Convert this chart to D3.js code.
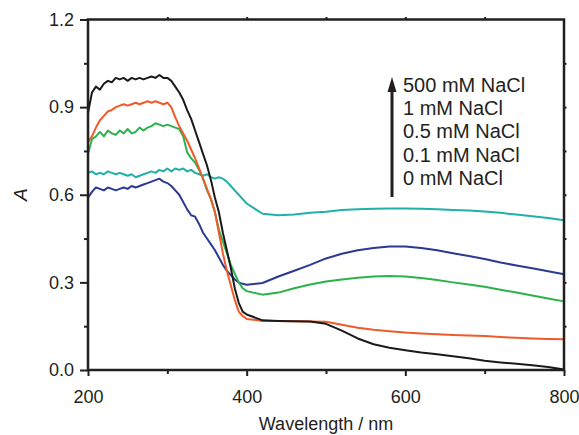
<!DOCTYPE html>
<html>
<head>
<meta charset="utf-8">
<script src="https://cdn.jsdelivr.net/npm/d3@7"></script>
<style>
  body { margin: 0; background: #fff; }
  text { font-family: "Liberation Sans", Arial, sans-serif; fill: #231f20; }
</style>
</head>
<body>
<div id="viz"></div>
<script>
var wavelength = [200,205,210,215,220,225,230,235,240,245,250,255,260,265,270,275,280,285,290,295,
  300,305,310,315,320,325,330,335,340,345,350,355,360,365,370,375,380,385,390,395,400,
  420,440,460,480,500,520,540,560,580,600,620,640,660,680,700,720,740,760,780,800];

var nacl500 = [0.88,0.95,0.97,0.96,0.98,0.99,0.985,1.0,0.995,1.0,0.99,1.0,0.995,1.0,0.995,1.0,1.005,1.0,1.01,1.0,
  1.0,0.99,0.97,0.95,0.925,0.89,0.86,0.82,0.78,0.74,0.7,0.65,0.59,0.54,0.47,0.41,0.35,0.28,0.23,0.2,0.19,
  0.17,0.168,0.167,0.166,0.158,0.135,0.108,0.088,0.076,0.068,0.06,0.054,0.047,0.04,0.032,0.026,0.021,0.016,0.01,0.002];

var nacl1 = [0.78,0.8,0.83,0.855,0.87,0.885,0.89,0.9,0.905,0.91,0.905,0.91,0.915,0.91,0.915,0.92,0.915,0.92,0.915,0.91,
  0.915,0.9,0.865,0.835,0.81,0.785,0.755,0.725,0.69,0.655,0.62,0.585,0.54,0.47,0.4,0.34,0.29,0.24,0.2,0.185,0.175,
  0.168,0.168,0.167,0.166,0.165,0.155,0.145,0.138,0.133,0.128,0.125,0.122,0.12,0.118,0.116,0.113,0.11,0.108,0.106,0.105];

var nacl05 = [0.74,0.79,0.8,0.815,0.8,0.82,0.81,0.805,0.82,0.81,0.825,0.81,0.815,0.83,0.82,0.83,0.835,0.845,0.84,0.835,
  0.84,0.835,0.83,0.825,0.8,0.745,0.725,0.71,0.685,0.655,0.615,0.585,0.54,0.48,0.44,0.4,0.36,0.33,0.3,0.28,0.27,
  0.258,0.265,0.28,0.293,0.303,0.31,0.316,0.32,0.322,0.32,0.315,0.308,0.3,0.293,0.285,0.275,0.265,0.255,0.245,0.235];

var nacl01 = [0.675,0.68,0.67,0.675,0.67,0.68,0.675,0.67,0.675,0.67,0.665,0.67,0.66,0.665,0.67,0.675,0.68,0.675,0.685,0.68,
  0.69,0.68,0.69,0.685,0.69,0.68,0.685,0.675,0.67,0.665,0.67,0.66,0.655,0.66,0.655,0.645,0.63,0.615,0.6,0.585,0.57,
  0.535,0.53,0.532,0.538,0.542,0.548,0.55,0.552,0.553,0.553,0.552,0.55,0.548,0.546,0.543,0.538,0.532,0.526,0.52,0.513];

var nacl0 = [0.59,0.61,0.625,0.62,0.615,0.625,0.62,0.615,0.62,0.625,0.62,0.63,0.625,0.63,0.635,0.64,0.645,0.65,0.655,0.645,
  0.64,0.63,0.615,0.6,0.575,0.55,0.53,0.525,0.5,0.47,0.45,0.43,0.41,0.385,0.36,0.34,0.325,0.31,0.3,0.295,0.292,
  0.298,0.32,0.34,0.36,0.382,0.398,0.41,0.418,0.423,0.423,0.418,0.41,0.4,0.39,0.38,0.368,0.358,0.348,0.338,0.328];

var labels = ['500 mM NaCl','1 mM NaCl','0.5 mM NaCl','0.1 mM NaCl','0 mM NaCl'];
var xTicks = [200,400,600,800];
var yTicks = [0,0.3,0.6,0.9,1.2];

var series = [
  {values: nacl0, color: '#2b3990'},
  {values: nacl01, color: '#1fb1a8'},
  {values: nacl05, color: '#2bb24c'},
  {values: nacl1, color: '#f15a29'},
  {values: nacl500, color: '#1a1a1a'}
];

var width = 579, height = 435;
var plotLeft = 88, plotRight = 564, plotTop = 19.5, plotBottom = 370;

var x = d3.scaleLinear().domain([200,800]).range([plotLeft,plotRight]);
var y = d3.scaleLinear().domain([0,1.2]).range([plotBottom,plotTop]);

var svg = d3.select('#viz').append('svg')
  .attr('width', width)
  .attr('height', height);

var line = d3.line()
  .x(function(d, i){ return x(wavelength[i]); })
  .y(function(d){ return y(d); });

svg.selectAll('path.series').data(series)
  .enter().append('path')
    .attr('class','series')
    .attr('fill','none')
    .attr('stroke', function(d){ return d.color; })
    .attr('stroke-width', 2)
    .attr('stroke-linejoin','round')
    .attr('d', function(d){ return line(d.values); });

// axes
var xAxis = svg.append('g').attr('transform','translate(0,' + plotBottom + ')')
  .call(d3.axisBottom(x).tickValues(xTicks).tickSize(6).tickPadding(14).tickFormat(d3.format('d')));
var xMinor = svg.append('g').attr('transform','translate(0,' + plotBottom + ')')
  .call(d3.axisBottom(x).tickValues([300,500,700]).tickSize(4).tickFormat(''));
var yAxis = svg.append('g').attr('transform','translate(' + plotLeft + ',0)')
  .call(d3.axisLeft(y).tickValues(yTicks).tickSize(8).tickPadding(6).tickFormat(d3.format('.1f')));
var yMinor = svg.append('g').attr('transform','translate(' + plotLeft + ',0)')
  .call(d3.axisLeft(y).tickValues([0.15,0.45,0.75,1.05]).tickSize(4).tickFormat(''));
var topAxis = svg.append('g').attr('transform','translate(0,' + plotTop + ')')
  .call(d3.axisTop(x).tickValues([300,400,500,600,700]).tickSize(2.5).tickFormat(''));
var rightAxis = svg.append('g').attr('transform','translate(' + plotRight + ',0)')
  .call(d3.axisRight(y).tickValues([0.15,0.3,0.45,0.6,0.75,0.9,1.05]).tickSize(2.5).tickFormat(''));

[xAxis,xMinor,yAxis,yMinor,topAxis,rightAxis].forEach(function(g){
  g.select('.domain').remove();
  g.selectAll('line').attr('stroke','#231f20').attr('stroke-width',2);
  g.selectAll('text').attr('font-size',18).style('font-family','"Liberation Sans", Arial, sans-serif').attr('fill','#231f20');
});

svg.append('rect')
  .attr('x', plotLeft).attr('y', plotTop)
  .attr('width', plotRight-plotLeft).attr('height', plotBottom-plotTop)
  .attr('fill','none').attr('stroke','#231f20').attr('stroke-width',2.5);

svg.append('text')
  .attr('x', (plotLeft+plotRight)/2).attr('y', 430)
  .attr('text-anchor','middle').attr('font-size',18)
  .text('Wavelength / nm');

svg.append('text')
  .attr('transform','translate(27,' + ((plotTop+plotBottom)/2) + ') rotate(-90)')
  .attr('text-anchor','middle').attr('font-size',19).attr('font-style','italic')
  .text('A');

// legend
svg.selectAll('text.lab').data(labels)
  .enter().append('text')
    .attr('class','lab')
    .attr('x', 403)
    .attr('y', function(d, i){ return 91.7 + i*23.3; })
    .attr('font-size', 20)
    .text(function(d){ return d; });

svg.append('line')
  .attr('x1',392).attr('x2',392).attr('y1',197).attr('y2',90)
  .attr('stroke','#231f20').attr('stroke-width',3);
svg.append('path')
  .attr('d','M387.5,92 L392,77 L396.5,92 Z')
  .attr('fill','#231f20');
</script>
</body>
</html>
